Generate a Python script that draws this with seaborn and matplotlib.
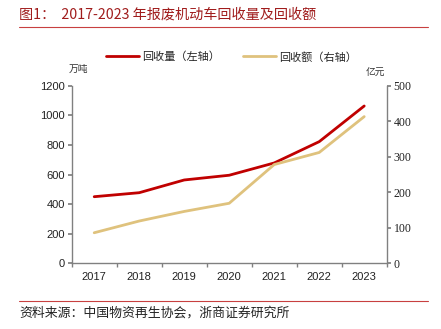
import matplotlib
matplotlib.use("Agg")
import matplotlib.pyplot as plt
import seaborn as sns
import pandas as pd
from matplotlib.lines import Line2D
from matplotlib.ticker import FixedLocator, NullFormatter

years = ["2017", "2018", "2019", "2020", "2021", "2022", "2023"]
volume = [450, 477, 563, 595, 678, 822, 1063]      # 万吨 (left axis)
amount = [86, 119, 146, 169, 278, 312, 413]         # 亿元 (right axis)
left_ticks = [0, 200, 400, 600, 800, 1000, 1200]
right_ticks = [0, 100, 200, 300, 400, 500]

RED = "#C00000"
GOLD = "#DFC27D"
SPINE = "#808080"
CJK = ["Noto Sans CJK SC", "DejaVu Sans"]

sns.set_theme(style="white")
plt.rcParams["font.family"] = ["Liberation Sans", "Noto Sans CJK SC", "DejaVu Sans"]

df = pd.DataFrame({"year": years, "volume": volume, "amount": amount})

fig = plt.figure(figsize=(4.41, 3.29), dpi=100)
ax = fig.add_axes([0.1626, 0.1997, 0.7143, 0.5398])
ax2 = ax.twinx()

sns.lineplot(data=df, x="year", y="volume", ax=ax, color=RED, lw=2.0, sort=False)
sns.lineplot(data=df, x="year", y="amount", ax=ax2, color=GOLD, lw=2.0, sort=False)

ax.set_xlim(-0.5, len(years) - 0.5)
ax.set_ylim(0, 1200)
ax2.set_ylim(0, 500)
ax.set_yticks(left_ticks)
ax2.set_yticks(right_ticks)
ax2.set_yticklabels([str(v) for v in right_ticks], family=["Liberation Serif", "DejaVu Serif"], fontsize=8.5)
ax.set_xticks(range(len(years)))
ax.set_xticklabels(years)
ax.xaxis.set_minor_locator(FixedLocator([i + 0.5 for i in range(-1, len(years))]))
ax.xaxis.set_minor_formatter(NullFormatter())
ax.set_xlabel("")
ax.set_ylabel("")
ax2.set_ylabel("")

for a in (ax, ax2):
    for s in a.spines.values():
        s.set_visible(False)
    a.grid(False)

ax.spines["left"].set_visible(True)
ax.spines["bottom"].set_visible(True)
ax2.spines["right"].set_visible(True)
for s in (ax.spines["left"], ax.spines["bottom"], ax2.spines["right"]):
    s.set_color(SPINE)
    s.set_linewidth(1.0)

ax.tick_params(axis="x", which="major", length=0, labelsize=8, pad=6, colors="#222222")
ax.tick_params(axis="x", which="minor", length=3, color=SPINE, direction="out", bottom=True)
ax.tick_params(axis="y", length=3, color=SPINE, direction="out", labelsize=8, labelcolor="#222222", left=True, pad=2)
ax2.tick_params(axis="y", length=3, color=SPINE, direction="out", labelcolor="#222222", right=True, pad=2)

# Units
fig.text(69 / 441, 1 - 69 / 329, "万吨", fontsize=7, family=CJK, va="center", ha="left", color="#333333")
fig.text(366 / 441, 1 - 73 / 329, "亿元", fontsize=7, family=CJK, va="center", ha="left", color="#333333")

# Legend
handles = [Line2D([], [], color=RED, lw=2.0), Line2D([], [], color=GOLD, lw=2.0)]
leg = fig.legend(handles, ["回收量（左轴）", "回收额（右轴）"], loc="center",
                 bbox_to_anchor=(0.525, 1 - 57 / 329), ncol=2, frameon=False,
                 prop={"family": CJK, "size": 8}, handlelength=3.0,
                 columnspacing=2.0, handletextpad=0.3)

# Title and source
fig.text(19 / 441, 1 - 14 / 329, "图1：  2017-2023 年报废机动车回收量及回收额", fontsize=10.2,
         family=CJK, color="#A01C1C", va="center", ha="left")
fig.add_artist(Line2D([19 / 441, 428 / 441], [1 - 27 / 329] * 2, color="#C84040", lw=0.8,
                      transform=fig.transFigure))
fig.add_artist(Line2D([19 / 441, 428 / 441], [1 - 301 / 329] * 2, color="#C84040", lw=0.8,
                      transform=fig.transFigure))
fig.text(19 / 441, 1 - 313 / 329, "资料来源：中国物资再生协会，浙商证券研究所", fontsize=9.3,
         family=CJK, color="#222222", va="center", ha="left")

fig.savefig("out.png", dpi=100)
